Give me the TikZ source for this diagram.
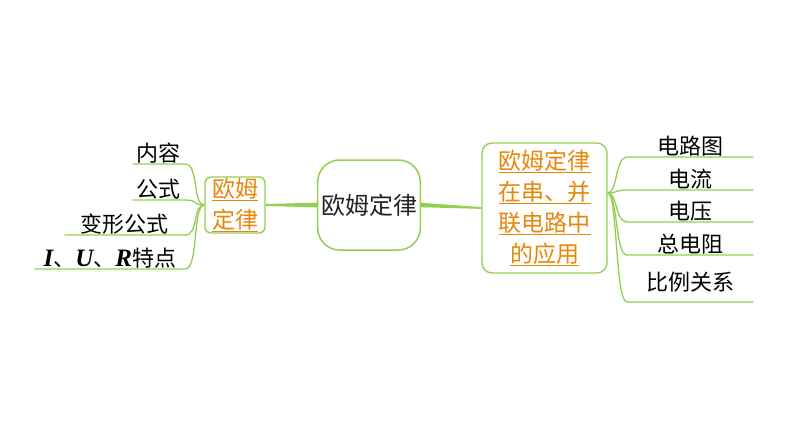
\documentclass[tikz,border=0pt]{standalone}
\usepackage{fontspec}
\setmainfont{Noto Sans CJK SC}
\newfontfamily\tnr{Liberation Serif}
\usetikzlibrary{calc}

\definecolor{mapgreen}{RGB}{146,208,80}
\definecolor{laworange}{RGB}{232,134,10}
\definecolor{inkgray}{RGB}{35,35,35}
\newcommand\physsym[1]{{\tnr\bfseries\itshape\fontsize{25}{26}\selectfont #1}}

\tikzset{
  leaf/.style={inner xsep=0pt, inner ysep=1pt, text depth=0.15em,
    font=\fontsize{22}{26}\selectfont, text=black},
  branch/.style={draw=mapgreen, line width=1.3pt},
  lawbox/.style={draw=mapgreen, line width=1.4pt, text=laworange,
    align=center, font=\fontsize{23}{31}\selectfont, inner sep=0pt},
}

\begin{document}
\begin{tikzpicture}[x=1pt,y=-1pt]
  \useasboundingbox[fill=white] (0,0) rectangle (794,447);

  % centre and the two topics
  \node[draw=mapgreen, line width=1.5pt, rounded corners=22pt,
    minimum width=102pt, minimum height=90pt, text=inkgray,
    font=\fontsize{24}{28}\selectfont] (ohm) at (369,205) {欧姆定律};
  \node[lawbox, minimum width=60pt, minimum height=56pt, rounded corners=6pt]
    (lawL) at (235,205) {\underline{欧姆}\\\underline{定律}};
  \node[lawbox, minimum width=125pt, minimum height=130pt, rounded corners=10pt]
    (lawR) at (544.5,208)
    {\underline{欧姆定律}\\\underline{在串、并}\\\underline{联电路中}\\\underline{的应用}};

  \fill[mapgreen] ($(lawL.east)+(0,-1)$) -- ($(ohm.west)+(0,-2.3)$)
    -- ($(ohm.west)+(0,2.3)$) -- ($(lawL.east)+(0,1)$) -- cycle;
  \fill[mapgreen] ($(ohm.east)+(0,-2.2)$) -- ($(lawR.west)+(0,-0.9)$)
    -- ($(lawR.west)+(0,0.9)$) -- ($(ohm.east)+(0,2.2)$) -- cycle;

  % left leaves
  \node[leaf, minimum width=52pt, anchor=south east] (content) at (185,164) {内容};
  \node[leaf, minimum width=52pt, anchor=south east] (formula) at (185,200) {公式};
  \node[leaf, minimum width=120pt, anchor=south east] (variant) at (185,235) {变形公式};
  \node[leaf, minimum width=150pt, anchor=south east, inner xsep=4pt] (traits) at (185,269)
    {\physsym{I}、\physsym{U}、\physsym{R}特点};
  \foreach \n in {content,formula,variant,traits}
    \draw[branch] (lawL.west) .. controls +(-12,0) and +(14,0) .. (\n.south east) -- (\n.south west);

  % right leaves
  \coordinate (hubR) at ($(lawR.east)+(0,-15)$);
  \node[leaf, minimum width=126pt, anchor=south west] (diagram) at (627,157) {电路图};
  \node[leaf, minimum width=126pt, anchor=south west] (current) at (627,190) {电流};
  \node[leaf, minimum width=126pt, anchor=south west] (voltage) at (627,222) {电压};
  \node[leaf, minimum width=126pt, anchor=south west] (resist) at (627,255) {总电阻};
  \node[leaf, minimum width=126pt, anchor=south west, inner ysep=10pt] (ratio) at (627,302) {比例关系};
  \foreach \n in {diagram,current,voltage,resist,ratio}
    \draw[branch] (hubR) .. controls +(10,0) and +(-12,0) .. (\n.south west) -- (\n.south east);
\end{tikzpicture}
\end{document}
